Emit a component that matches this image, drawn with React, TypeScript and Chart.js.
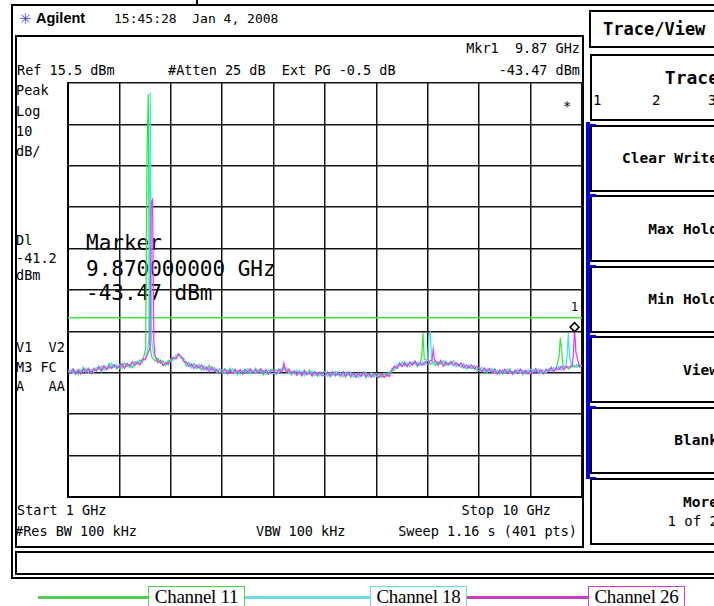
import React, { useEffect, useRef } from "react";
import { Chart, registerables } from "chart.js";

Chart.register(...registerables);

// ---------- data ----------
const xGridGHz = [1, 1.9, 2.8, 3.7, 4.6, 5.5, 6.4, 7.3, 8.2, 9.1, 10];
const yGridDbm = [-84.5, -74.5, -64.5, -54.5, -44.5, -34.5, -24.5, -14.5, -4.5, 5.5, 15.5];

const displayLineDbm = -41.2;
const markerFreqGHz = 9.87;
const markerLevelDbm = -43.47;

const noiseFreqGHz = [
  1, 1.045, 1.09, 1.135, 1.18, 1.225, 1.27, 1.315, 1.36, 1.405, 1.45, 1.495, 1.54, 1.585, 1.63, 1.675, 1.72, 1.765, 1.81, 1.855,
  1.9, 1.945, 1.99, 2.035, 2.08, 2.125, 2.17, 2.215, 2.26, 2.305, 2.35, 2.395, 2.44, 2.485, 2.53, 2.575, 2.62, 2.665, 2.71, 2.755,
  2.8, 2.845, 2.89, 2.935, 2.98, 3.025, 3.07, 3.115, 3.16, 3.205, 3.25, 3.295, 3.34, 3.385, 3.43, 3.475, 3.52, 3.565, 3.61, 3.655,
  3.7, 3.745, 3.79, 3.835, 3.88, 3.925, 3.97, 4.015, 4.06, 4.105, 4.15, 4.195, 4.24, 4.285, 4.33, 4.375, 4.42, 4.465, 4.51, 4.555,
  4.6, 4.645, 4.69, 4.735, 4.78, 4.825, 4.87, 4.915, 4.96, 5.005, 5.05, 5.095, 5.14, 5.185, 5.23, 5.275, 5.32, 5.365, 5.41, 5.455,
  5.5, 5.545, 5.59, 5.635, 5.68, 5.725, 5.77, 5.815, 5.86, 5.905, 5.95, 5.995, 6.04, 6.085, 6.13, 6.175, 6.22, 6.265, 6.31, 6.355,
  6.4, 6.445, 6.49, 6.535, 6.58, 6.625, 6.67, 6.715, 6.76, 6.805, 6.85, 6.895, 6.94, 6.985, 7.03, 7.075, 7.12, 7.165, 7.21, 7.255,
  7.3, 7.345, 7.39, 7.435, 7.48, 7.525, 7.57, 7.615, 7.66, 7.705, 7.75, 7.795, 7.84, 7.885, 7.93, 7.975, 8.02, 8.065, 8.11, 8.155,
  8.2, 8.245, 8.29, 8.335, 8.38, 8.425, 8.47, 8.515, 8.56, 8.605, 8.65, 8.695, 8.74, 8.785, 8.83, 8.875, 8.92, 8.965, 9.01, 9.055,
  9.1, 9.145, 9.19, 9.235, 9.28, 9.325, 9.37, 9.415, 9.46, 9.505, 9.55, 9.595, 9.64, 9.685, 9.73, 9.775, 9.82, 9.865, 9.91, 9.955,
  10,
];

const ch11Noise = [
  -53.8, -54.7, -54.0, -54.9, -53.6, -54.3, -53.2, -54.5, -53.9, -54.5, -53.4, -54.0, -52.9, -54.3, -53.1, -53.6, -52.2, -53.2, -52.5, -53.6,
  -52.5, -53.4, -52.1, -53.0, -52.4, -53.3, -51.8, -52.4, -51.4, -52.0, -50.7, -50.0, -49.5, -50.0, -51.7, -51.0, -52.3, -51.6, -52.8, -51.5,
  -51.9, -50.7, -51.2, -50.1, -50.9, -51.1, -52.9, -52.0, -53.0, -52.2, -53.5, -52.8, -53.9, -52.9, -53.7, -52.7, -54.0, -53.6, -54.5, -53.5,
  -54.6, -53.55, -54.4, -53.4, -54.6, -53.9, -54.9, -53.7, -54.3, -53.6, -54.7, -53.9, -54.5, -53.4, -54.5, -53.7, -55.0, -53.8, -54.5, -53.7,
  -53.9, -54.8, -53.7, -54.0, -52.9, -54.4, -54.0, -55.0, -54.0, -54.85, -54.0, -55.3, -54.3, -54.8, -53.85, -55.2, -54.3, -55.3, -54.5, -55.1,
  -55.1, -54.25, -55.5, -54.5, -55.0, -54.25, -55.4, -54.5, -55.2, -54.2, -55.6, -54.8, -55.4, -54.5, -55.2, -54.35, -55.7, -54.75, -55.2, -54.6,
  -55.4, -54.7, -55.6, -54.6, -55.4, -54.3, -54.4, -53.0, -53.5, -52.2, -52.9, -51.8, -52.9, -52.0, -52.6, -51.7, -53.0, -52.0, -52.2, -52.0,
  -51.6, -52.5, -51.8, -52.7, -51.8, -52.4, -51.6, -52.8, -52.1, -52.55, -51.6, -53.0, -52.3, -53.1, -52.3, -53.6, -52.8, -53.55, -52.7, -53.75,
  -53.2, -54.2, -53.6, -54.6, -53.5, -54.35, -53.5, -54.55, -53.9, -54.8, -53.7, -54.4, -53.55, -54.8, -54.0, -54.7, -53.7, -54.95, -54.0, -54.55,
  -53.7, -54.45, -53.5, -54.65, -54.0, -54.7, -53.6, -54.2, -53.1, -54.1, -53.3, -54.0, -53.4, -53.3, -53.2, -53.55, -52.6, -53.2, -52.5, -53.15,
  -52.6,
];
const ch18Noise = [
  -54.5, -53.7, -54.7, -53.9, -55.0, -53.7, -54.3, -53.3, -54.4, -53.7, -54.4, -53.2, -53.8, -52.9, -53.9, -52.9, -53.5, -52.2, -53.3, -52.55,
  -53.4, -52.45, -53.1, -52.1, -53.3, -52.15, -52.5, -51.65, -52.4, -51.4, -51.3, -50.0, -49.5, -50.0, -50.8, -52.1, -51.4, -52.7, -51.9, -52.6,
  -51.2, -51.5, -50.2, -50.1, -50.7, -50.9, -52.7, -52.2, -53.4, -52.6, -53.2, -52.4, -53.6, -52.8, -54.0, -53.3, -54.1, -53.2, -54.2, -53.6,
  -53.8, -54.75, -53.7, -54.4, -53.5, -54.7, -53.9, -54.9, -53.8, -54.5, -53.5, -54.5, -53.9, -54.7, -53.7, -54.4, -53.8, -54.9, -53.7, -54.7,
  -54.7, -53.7, -54.6, -53.5, -53.8, -53.3, -54.7, -54.1, -54.9, -53.85, -54.9, -54.1, -55.2, -54.2, -54.85, -54.1, -55.2, -54.4, -55.3, -54.3,
  -54.2, -55.35, -54.5, -55.2, -54.1, -55.15, -54.5, -55.5, -54.4, -55.1, -54.4, -55.5, -54.7, -55.7, -54.6, -55.25, -54.5, -55.45, -54.5, -55.6,
  -54.7, -55.6, -54.8, -55.5, -54.6, -55.2, -53.5, -53.9, -52.5, -53.0, -51.9, -52.9, -52.1, -53.0, -51.9, -52.5, -51.9, -52.8, -51.9, -52.6,
  -52.5, -51.5, -52.4, -51.6, -52.8, -51.9, -52.7, -51.6, -52.8, -52.05, -51.6, -52.7, -52.2, -53.2, -52.5, -53.5, -52.5, -53.35, -52.9, -54.05,
  -53.9, -53.2, -54.4, -53.5, -54.2, -53.45, -54.6, -53.85, -54.9, -53.7, -54.5, -53.6, -54.65, -54.1, -54.8, -53.6, -54.6, -53.85, -54.8, -53.75,
  -54.6, -53.65, -54.3, -53.55, -54.7, -53.8, -54.6, -53.5, -54.1, -53.2, -54.0, -52.9, -53.9, -53.0, -53.8, -53.15, -53.1, -52.6, -53.2, -52.35,
  -53.0,
];
const ch26Noise = [
  -54.1, -54.6, -53.5, -54.7, -53.9, -54.8, -53.6, -54.2, -53.4, -54.7, -53.5, -54.1, -53.1, -53.8, -52.7, -53.8, -52.9, -53.5, -52.6, -53.15,
  -53.2, -52.25, -53.4, -52.3, -52.9, -51.75, -52.8, -51.95, -52.6, -51.1, -51.4, -50.0, -49.5, -50.0, -50.9, -52.0, -51.5, -52.8, -52.1, -52.3,
  -51.4, -50.8, -51.1, -49.9, -50.5, -51.8, -51.8, -53.0, -52.3, -53.5, -52.6, -53.4, -52.6, -53.8, -53.1, -54.2, -53.1, -54.2, -53.6, -54.6,
  -54.3, -53.65, -54.8, -53.9, -54.6, -53.6, -54.5, -53.7, -54.9, -53.8, -54.3, -53.5, -54.6, -53.8, -54.6, -53.5, -54.5, -53.7, -54.9, -54.0,
  -54.0, -54.7, -53.6, -54.4, -53.4, -54.3, -53.6, -54.7, -54.0, -55.15, -54.3, -55.1, -53.9, -55.0, -54.45, -55.3, -54.2, -55.0, -54.3, -55.2,
  -55.3, -54.45, -55.2, -54.2, -55.3, -54.65, -55.2, -54.2, -55.5, -54.5, -55.2, -54.5, -55.6, -54.7, -55.4, -54.35, -55.3, -54.65, -55.6, -54.9,
  -54.9, -55.7, -54.7, -55.7, -54.9, -55.4, -53.8, -52.9, -53.4, -52.1, -53.0, -52.2, -53.0, -51.9, -52.7, -51.7, -52.7, -52.1, -52.7, -51.8,
  -52.4, -51.5, -52.6, -51.8, -52.6, -51.5, -52.9, -52.0, -52.5, -51.75, -52.8, -52.0, -52.9, -52.1, -53.3, -52.6, -53.4, -52.55, -53.6, -52.95,
  -53.4, -54.3, -53.3, -54.2, -53.4, -54.55, -53.8, -54.85, -53.8, -54.4, -53.6, -54.7, -53.95, -54.9, -53.8, -54.6, -53.6, -54.65, -53.9, -54.85,
  -53.9, -54.65, -53.5, -54.55, -53.7, -54.7, -53.7, -54.1, -53.3, -54.3, -53.2, -53.8, -52.9, -53.8, -52.9, -53.15, -53.1, -53.0, -52.6, -53.05,
  -52.7,
];

const ch11PeakFreq = [2.36, 2.3825, 2.405, 2.4275, 2.45, 2.4725, 7.17, 7.1925, 7.215, 7.2375, 9.5975, 9.62, 9.6425, 9.665];
const ch11PeakLevel = [-48.6, -1.9, 12.8, -46.8, -49.5, -50.8, -52.0, -50.5, -44.9, -51.2, -50.8, -46.1, -48.8, -52.6];

const ch18PeakFreq = [2.395, 2.4175, 2.44, 2.4625, 2.485, 2.5075, 7.275, 7.2975, 7.32, 7.3425, 7.365, 9.715, 9.7375, 9.76, 9.7825];
const ch18PeakLevel = [-49.0, -46.0, 13.2, -46.5, -48.6, -50.4, -52.0, -51.2, -45.6, -44.8, -51.0, -53.0, -50.8, -44.9, -50.5];

const ch26PeakFreq = [2.435, 2.4575, 2.48, 2.5025, 2.525, 4.7575, 4.78, 4.8025, 7.3725, 7.395, 7.4175, 9.825, 9.8475, 9.87, 9.8925];
const ch26PeakLevel = [-48.5, -13.2, -12.6, -46.8, -50.3, -53.8, -52.2, -53.6, -51.6, -48.8, -51.4, -53.0, -50.5, -43.47, -49.5];

const seriesNames = ["Channel 11", "Channel 18", "Channel 26"];
const seriesColors = ["#2ee82e", "#2ee8f8", "#f82ef8"];
const legendColors = ["#4fcf4f", "#66dde6", "#c93cc9"];

function buildTrace(noise: number[], peakF: number[], peakL: number[]) {
  const pts: { x: number; y: number }[] = [];
  noiseFreqGHz.forEach((f, i) => {
    if (!peakF.some((p) => Math.abs(p - f) < 0.02)) pts.push({ x: f, y: noise[i] });
  });
  peakF.forEach((f, i) => pts.push({ x: f, y: peakL[i] }));
  pts.sort((a, b) => a.x - b.x);
  return pts;
}

// ---------- helpers ----------
const W = 714;
const mono = '"DejaVu Sans Mono", monospace';

function T(props: {
  x: number;
  y: number;
  s?: number;
  bold?: boolean;
  right?: boolean;
  font?: string;
  color?: string;
  z?: number;
  children: any;
}) {
  const s = props.s ?? 13.5;
  const style: any = {
    position: "absolute",
    top: props.y - s * 0.6,
    fontSize: s,
    lineHeight: `${s * 1.2}px`,
    fontFamily: props.font ?? mono,
    fontWeight: props.bold ? "bold" : "normal",
    whiteSpace: "pre",
    color: props.color ?? "#000",
    zIndex: props.z ?? 1,
  };
  if (props.right) style.right = W - props.x;
  else style.left = props.x;
  return <div style={style}>{props.children}</div>;
}

function Box(props: { l: number; t: number; w: number; h: number; b?: number; c?: string; z?: number }) {
  return (
    <div
      style={{
        position: "absolute",
        left: props.l,
        top: props.t,
        width: props.w,
        height: props.h,
        border: `${props.b ?? 2}px solid ${props.c ?? "#000"}`,
        boxSizing: "border-box",
        zIndex: props.z ?? 0,
      }}
    />
  );
}

function Fill(props: { l: number; t: number; w: number; h: number; c: string; z?: number }) {
  return (
    <div
      style={{
        position: "absolute",
        left: props.l,
        top: props.t,
        width: props.w,
        height: props.h,
        background: props.c,
        zIndex: props.z ?? 0,
      }}
    />
  );
}

const markerLabelPlugin = {
  id: "markerLabel",
  afterDatasetsDraw(chart: any) {
    const { ctx, scales } = chart;
    const px = scales.x.getPixelForValue(markerFreqGHz);
    const py = scales.y.getPixelForValue(markerLevelDbm);
    ctx.save();
    ctx.font = '12px "DejaVu Sans Mono"';
    ctx.fillStyle = "#000";
    ctx.textAlign = "center";
    ctx.textBaseline = "middle";
    ctx.fillText("1", px, py - 19);
    ctx.restore();
  },
};

export default function App() {
  const ref = useRef<HTMLCanvasElement | null>(null);

  useEffect(() => {
    if (!ref.current) return;
    const traces = [
      buildTrace(ch11Noise, ch11PeakFreq, ch11PeakLevel),
      buildTrace(ch18Noise, ch18PeakFreq, ch18PeakLevel),
      buildTrace(ch26Noise, ch26PeakFreq, ch26PeakLevel),
    ];
    const gridOpts = { color: "#141414", lineWidth: 1.5, drawTicks: false };
    const chart = new Chart(ref.current, {
      type: "line",
      data: {
        datasets: [
          {
            label: "Marker 1",
            data: [{ x: markerFreqGHz, y: markerLevelDbm }],
            showLine: false,
            pointStyle: "rectRot",
            pointRadius: 4.5,
            pointBackgroundColor: "#fff",
            pointBorderColor: "#000",
            pointBorderWidth: 1.5,
            order: 0,
          } as any,
          ...traces.map((d, i) => ({
            label: seriesNames[i],
            data: d,
            borderColor: seriesColors[i],
            borderWidth: 1.2,
            pointRadius: 0,
            tension: 0,
            fill: false,
            order: 3 - i,
          })),
          {
            label: "Display line",
            data: [
              { x: 1, y: displayLineDbm },
              { x: 10, y: displayLineDbm },
            ],
            borderColor: "#3ee83e",
            borderWidth: 1.5,
            pointRadius: 0,
            order: 5,
          },
        ],
      },
      options: {
        animation: false,
        responsive: false,
        maintainAspectRatio: false,
        layout: { padding: 8 },
        plugins: { legend: { display: false }, tooltip: { enabled: false } },
        scales: {
          x: {
            type: "linear",
            min: 1,
            max: 10,
            afterBuildTicks: (s: any) => {
              s.ticks = xGridGHz.map((v) => ({ value: v }));
            },
            ticks: { display: false },
            grid: gridOpts,
            border: { display: true, color: "#000", width: 2 },
          },
          y: {
            type: "linear",
            min: -84.5,
            max: 15.5,
            afterBuildTicks: (s: any) => {
              s.ticks = yGridDbm.map((v) => ({ value: v }));
            },
            ticks: { display: false },
            grid: gridOpts,
            border: { display: true, color: "#000", width: 2 },
          },
        },
      } as any,
      plugins: [markerLabelPlugin],
    });
    return () => chart.destroy();
  }, []);

  const keyTops = [54, 124.6, 195.2, 265.8, 336.4, 407, 477.6];
  const keyLabels = ["Clear Write", "Max Hold", "Min Hold", "View", "Blank"];
  const legendBoxes = [148, 370, 588];
  const legendLines = [
    [38, 110],
    [244, 126],
    [466, 122],
  ];

  return (
    <div
      style={{
        position: "absolute",
        left: 0,
        top: 0,
        width: W,
        height: 606,
        overflow: "hidden",
        background: "#fff",
      }}
    >
      {/* outer frame */}
      <Box l={11} t={4} w={720} h={575} b={2} />
      <Fill l={196} t={0} w={2} h={5} c="#000" />
      {/* header */}
      <T x={19} y={19} s={15} font='"DejaVu Sans", sans-serif' color="#3a50e0">
        ✳
      </T>
      <T x={36} y={19} s={14.5} bold font='"Liberation Sans", Arial, sans-serif'>
        Agilent
      </T>
      <T x={114} y={19} s={13}>
        15:45:28  Jan 4, 2008
      </T>

      {/* screen box */}
      <Box l={15} t={35} w={569} h={513} b={2} />
      <T x={580} y={48} right>
        Mkr1  9.87 GHz
      </T>
      <T x={17} y={70}>
        Ref 15.5 dBm
      </T>
      <T x={168} y={70}>
        #Atten 25 dB  Ext PG -0.5 dB
      </T>
      <T x={580} y={70} right>
        -43.47 dBm
      </T>
      <T x={16} y={90}>Peak</T>
      <T x={16} y={111}>Log</T>
      <T x={16} y={131}>10</T>
      <T x={16} y={151}>dB/</T>
      <T x={16} y={240}>Dl</T>
      <T x={16} y={258}>-41.2</T>
      <T x={16} y={275}>dBm</T>
      <T x={16} y={347}>V1  V2</T>
      <T x={16} y={367}>M3 FC</T>
      <T x={16} y={386}>A   AA</T>
      <T x={563} y={106}>*</T>
      <T x={86} y={244} s={21}>
        Marker
      </T>
      <T x={86} y={270} s={21}>
        9.870000000 GHz
      </T>
      <T x={86} y={294} s={21}>
        -43.47 dBm
      </T>
      <T x={17} y={510}>
        Start 1 GHz
      </T>
      <T x={551} y={510} right>
        Stop 10 GHz
      </T>
      <T x={15} y={531}>
        #Res BW 100 kHz
      </T>
      <T x={256} y={531}>
        VBW 100 kHz
      </T>
      <T x={577} y={531} right>
        Sweep 1.16 s (401 pts)
      </T>

      {/* chart */}
      <canvas
        ref={ref}
        width={530}
        height={430}
        style={{ position: "absolute", left: 60, top: 75, width: 530, height: 430, zIndex: 2 }}
      />

      {/* status bar */}
      <Box l={15} t={551} w={720} h={24} b={2} />

      {/* right panel */}
      <Box l={589} t={10} w={140} h={38} b={2} />
      <T x={603} y={29} s={17} bold>
        Trace/View
      </T>
      <Fill l={586} t={122} w={4} h={355} c="#0000ee" />
      {keyTops.map((t, i) => (
        <Box key={"k" + i} l={590} t={t} w={140} h={67} b={2} />
      ))}
      {keyTops.slice(1).map((t, i) => (
        <Fill key={"b" + i} l={586} t={t - 1} w={10} h={2.5} c="#0000ee" z={1} />
      ))}
      <T x={719} y={78} s={18} bold right>
        Trace
      </T>
      <T x={593} y={100} s={14}>
        1
      </T>
      <T x={652} y={100} s={14}>
        2
      </T>
      <T x={708} y={100} s={14}>
        3
      </T>
      {keyLabels.map((lab, i) => (
        <T key={lab} x={718} y={keyTops[i + 1] + 34} s={14.5} bold right>
          {lab}
        </T>
      ))}
      <T x={718} y={503} s={14.5} bold right>
        More
      </T>
      <T x={718} y={521} s={14} right>
        1 of 2
      </T>

      {/* legend */}
      {legendLines.map(([l, w], i) => (
        <Fill key={"ll" + i} l={l} t={595.5} w={w} h={3} c={legendColors[i]} />
      ))}
      {legendBoxes.map((l, i) => (
        <React.Fragment key={"lb" + i}>
          <Box l={l} t={586} w={97} h={24} b={1.5} c={legendColors[i]} />
          <div
            style={{
              position: "absolute",
              left: l,
              top: 586,
              width: 97,
              height: 22,
              lineHeight: "22px",
              textAlign: "center",
              fontFamily: '"Liberation Serif", "Times New Roman", serif',
              fontSize: 19,
              letterSpacing: -0.3,
              color: "#000",
            }}
          >
            {seriesNames[i]}
          </div>
        </React.Fragment>
      ))}
    </div>
  );
}
